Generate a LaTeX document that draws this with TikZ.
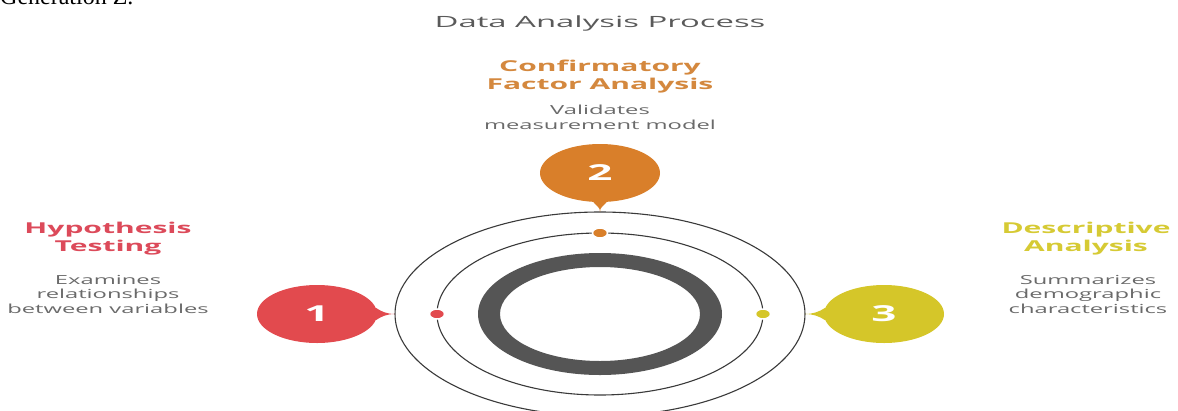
\documentclass[tikz,border=0pt]{standalone}
\usepackage{fontspec}
\setmainfont{Liberation Serif}
\newfontfamily\widesans{Open Sans}[FakeStretch=1.9]
\newfontfamily\headsans{Open Sans}[FakeStretch=2.0]
\newfontfamily\titlesans{Open Sans}[FakeStretch=2.12]
\usetikzlibrary{shapes.geometric}

\definecolor{redc}{HTML}{E24A4E}
\definecolor{orangec}{HTML}{D97F2A}
\definecolor{yellowc}{HTML}{D5C629}
\definecolor{redtxt}{HTML}{DC4A5A}
\definecolor{orangetxt}{HTML}{D4883E}
\definecolor{yellowtxt}{HTML}{D6CA34}
\definecolor{ringgray}{HTML}{3A3A3A}
\definecolor{bandgray}{HTML}{555555}
\definecolor{descgray}{HTML}{6A6A6A}
\definecolor{titlegray}{HTML}{5A5A5A}

\tikzset{
  ring/.style={draw=ringgray, line width=1.1pt},
  bubble/.style={ellipse, minimum width=120pt, minimum height=58pt, inner sep=0pt,
    text=white, font=\headsans\bfseries\fontsize{22}{22}\selectfont},
  heading/.style={align=center, inner sep=0pt, anchor=north,
    font=\headsans\bfseries\fontsize{15}{18}\selectfont},
  desc/.style={align=center, inner sep=0pt, anchor=north, text=descgray,
    font=\widesans\fontsize{12.5}{14.5}\selectfont},
  dot/.style={ellipse, minimum width=15pt, minimum height=10pt, inner sep=0pt,
    draw=white, line width=1.5pt},
}

\begin{document}
\begin{tikzpicture}[x=1pt, y=-1pt]
\useasboundingbox (0,0) rectangle (1178,410);

% line of body text running above the figure
\node[anchor=base west, inner sep=0pt, font=\fontsize{24}{24}\selectfont] (prev) at (0,4.5) {Generation Z.};

% title
\node[anchor=north, inner sep=0pt, text=titlegray, font=\titlesans\fontsize{15.5}{17}\selectfont] (title) at (600,16) {Data Analysis Process};

% concentric rings
\draw[ring] (600,314) ellipse [x radius=205, y radius=102];
\draw[ring] (600,314) ellipse [x radius=163, y radius=81];
\fill[bandgray, even odd rule] (600,314) ellipse [x radius=122, y radius=61]
                                (600,314) ellipse [x radius=100, y radius=47];

% markers on the inner ring
\node[dot, fill=redc] (d1) at (437,314) {};
\node[dot, fill=orangec] (d2) at (600,233) {};
\node[dot, fill=yellowc] (d3) at (763,314) {};

% tail tips on the outer ring
\coordinate (t1) at (395,314);
\coordinate (t2) at (600,212);
\coordinate (t3) at (805,314);

% numbered bubbles
\node[bubble, fill=redc] (b1) at (317,314) {1};
\node[bubble, fill=orangec] (b2) at (600,173) {2};
\node[bubble, fill=yellowc] (b3) at (884,314) {3};

% pointed tails reaching the outer ring
\fill[redc] (b1.6) .. controls +(6,4) and +(-8,0) .. (t1)
            .. controls +(-8,0) and +(6,-4) .. (b1.-6) -- cycle;
\fill[orangec] (b2.-77) .. controls +(-4,5) and +(0,-5) .. (t2)
               .. controls +(0,-5) and +(4,5) .. (b2.-103) -- cycle;
\fill[yellowc] (b3.174) .. controls +(-6,4) and +(8,0) .. (t3)
               .. controls +(8,0) and +(-6,-4) .. (b3.186) -- cycle;

% labels
\node[heading, text=redtxt] (h1) at (108,222) {Hypothesis\\Testing};
\node[desc] (s1) at (108,275) {Examines\\relationships\\between variables};

\node[heading, text=orangetxt] (h2) at (600,60) {Confirmatory\\Factor Analysis};
\node[desc] (s2) at (600,105) {Validates\\measurement model};

\node[heading, text=yellowtxt] (h3) at (1086,222) {Descriptive\\Analysis};
\node[desc] (s3) at (1088,275) {Summarizes\\demographic\\characteristics};
\end{tikzpicture}
\end{document}
